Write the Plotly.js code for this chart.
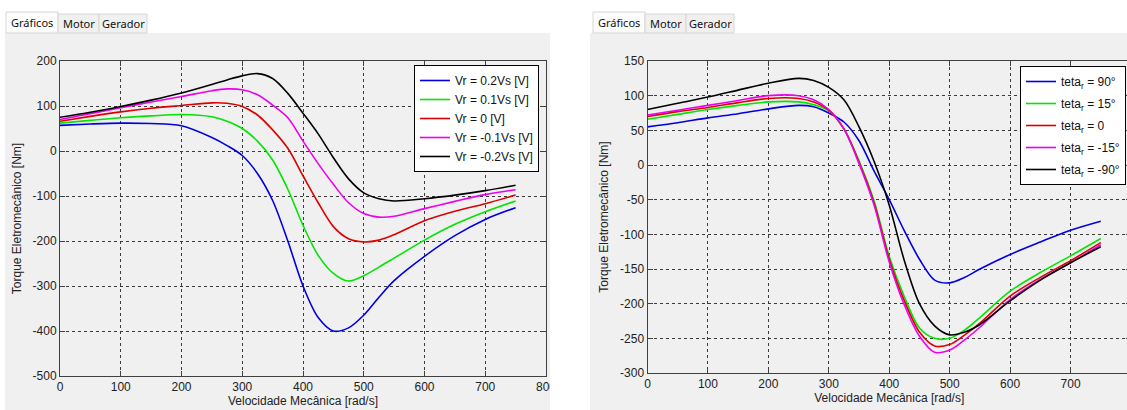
<!DOCTYPE html>
<html>
<head>
<meta charset="utf-8">
<script src="https://cdn.plot.ly/plotly-3.0.1.min.js"></script>
<style>
html,body{margin:0;padding:0;overflow:hidden;background:#fff;}
#chart{width:1135px;height:410px;}
</style>
</head>
<body>
<div id="chart"></div>
<script>
// ---------- DATA ----------
const speed = [0,50,100,150,200,250,275,300,325,350,375,400,425,450,475,500,525,550,600,650,700,750];

// Left chart: Vr variations
const vrLabels = ['Vr = 0.2Vs [V]','Vr = 0.1Vs [V]','Vr = 0 [V]','Vr = -0.1Vs [V]','Vr = -0.2Vs [V]'];
const vrPos02 = [57,60,62,61,56,30,12,-10,-50,-110,-200,-300,-370,-400,-393,-365,-325,-288,-234,-188,-152,-126];
const vrPos01 = [62,68,74,78,81,76,66,50,22,-20,-85,-165,-232,-272,-289,-277,-258,-238,-198,-163,-135,-111];
const vrZero  = [66,77,87,95,101,107,106,99,80,47,6,-55,-115,-168,-195,-202,-198,-186,-155,-134,-117,-98];
const vrNeg01 = [70,83,96,109,121,134,138,136,125,102,74,22,-28,-74,-115,-139,-147,-145,-128,-112,-97,-86];
const vrNeg02 = [75,86,99,113,129,148,158,167,172,161,128,84,38,-15,-62,-93,-106,-111,-106,-98,-88,-76];

// Right chart: teta_r variations
const tetaLabels = ['teta<sub>r</sub> = 90°','teta<sub>r</sub> = 15°','teta<sub>r</sub> = 0','teta<sub>r</sub> = -15°','teta<sub>r</sub> = -90°'];
const teta90  = [55,61,68,74,81,86,84,75,62,35,-9,-50,-95,-136,-166,-170,-162,-150,-129,-111,-94,-81];
const teta15  = [66,73,80,86,91,91,87,78,52,6,-52,-132,-190,-235,-250,-250,-238,-220,-182,-155,-131,-106];
const teta0   = [70,77,83,90,96,96,91,79,52,4,-55,-136,-196,-241,-261,-259,-245,-228,-189,-162,-138,-112];
const tetaM15 = [72,79,86,93,100,100,94,80,52,2,-58,-140,-202,-247,-270,-267,-252,-234,-194,-165,-141,-115];
const tetaM90 = [80,89,98,108,118,125,122,112,94,55,5,-58,-138,-200,-232,-245,-241,-230,-196,-166,-141,-118];

// Tick labels
const xTickVals = [0,100,200,300,400,500,600,700,800];
const xTickText = ['0','100','200','300','400','500','600','700','800'];
const yLeftTickVals = [-500,-400,-300,-200,-100,0,100,200];
const yLeftTickText = ['-500','-400','-300','-200','-100','0','100','200'];
const yRightTickVals = [-300,-250,-200,-150,-100,-50,0,50,100,150];
const yRightTickText = ['-300','-250','-200','-150','-100','-50','0','50','100','150'];

const xTitle = 'Velocidade Mecânica [rad/s]';
const yTitle = 'Torque Eletromecânico [Nm]';
const tabNames = ['Gráficos','Motor','Gerador'];

// ---------- STYLE ----------
const colors = ['#0000e0','#00e600','#dd0000','#ee00ee','#000000'];
const W = 1135, H = 410;
const px = v => v / W;
const py = v => 1 - v / H;
const FONT = 'Liberation Sans, Arial, sans-serif';

const leftSeries = [vrPos02, vrPos01, vrZero, vrNeg01, vrNeg02];
const rightSeries = [teta90, teta15, teta0, tetaM15, tetaM90];

const traces = [];
leftSeries.forEach((s, i) => traces.push({
  x: speed, y: s, name: vrLabels[i], type: 'scatter', mode: 'lines',
  line: {color: colors[i], width: 1.6, shape: 'spline', smoothing: 0.9},
  xaxis: 'x', yaxis: 'y', legend: 'legend', hoverinfo: 'skip'
}));
rightSeries.forEach((s, i) => traces.push({
  x: speed, y: s, name: tetaLabels[i], type: 'scatter', mode: 'lines',
  line: {color: colors[i], width: 1.6, shape: 'spline', smoothing: 0.9},
  xaxis: 'x2', yaxis: 'y2', legend: 'legend2', legendgroup: 'g' + i, hoverinfo: 'skip'
}));

function axisBase() {
  return {
    showline: true, linecolor: '#404040', linewidth: 1, mirror: 'ticks',
    ticks: 'inside', ticklen: 5, tickcolor: '#404040', tickwidth: 1,
    showgrid: true, gridcolor: '#3a3a3a', gridwidth: 1, griddash: 'dot',
    zeroline: false, tickmode: 'array',
    tickfont: {family: FONT, size: 12, color: '#222'},
    fixedrange: true
  };
}

const xa = Object.assign(axisBase(), {
  domain: [px(60), px(546)], range: [0, 800], anchor: 'y',
  tickvals: xTickVals, ticktext: xTickText,
  title: {text: xTitle, font: {family: FONT, size: 12, color: '#222'}, standoff: 3}
});
const ya = Object.assign(axisBase(), {
  domain: [py(376), py(61)], range: [-500, 200], anchor: 'x',
  tickvals: yLeftTickVals, ticktext: yLeftTickText,
  title: {text: yTitle, font: {family: FONT, size: 12, color: '#222'}, standoff: 8}
});
const xa2 = Object.assign(axisBase(), {
  domain: [px(647.5), px(1131)], range: [0, 800], anchor: 'y2',
  tickvals: xTickVals, ticktext: xTickText,
  title: {text: xTitle, font: {family: FONT, size: 12, color: '#222'}, standoff: 3}
});
const ya2 = Object.assign(axisBase(), {
  domain: [py(373), py(61)], range: [-300, 150], anchor: 'x2',
  tickvals: yRightTickVals, ticktext: yRightTickText,
  title: {text: yTitle, font: {family: FONT, size: 12, color: '#222'}, standoff: 8}
});

const shapes = [
  {type:'rect', xref:'paper', yref:'paper', x0:px(5), x1:px(550), y0:0, y1:py(33), fillcolor:'#f0f0f0', line:{width:0}, layer:'below'},
  {type:'rect', xref:'paper', yref:'paper', x0:px(590), x1:1, y0:0, y1:py(33), fillcolor:'#f0f0f0', line:{width:0}, layer:'below'}
];
const tabDefsL = [[6,58,12],[58,99,14],[99,147,14]];
const tabDefsR = [[593,645,12],[645,686,14],[686,734,14]];
const annotations = [];
[tabDefsL, tabDefsR].forEach(defs => {
  defs.forEach((d, i) => {
    shapes.push({type:'rect', xref:'paper', yref:'paper', x0:px(d[0]), x1:px(d[1]), y0:py(33), y1:py(d[2]),
      fillcolor: i === 0 ? '#fcfcfc' : '#f0f0f0', line:{color:'#d6d6d6', width:1}, layer:'below'});
    annotations.push({xref:'paper', yref:'paper', x:px((d[0]+d[1])/2), y:py(i === 0 ? 22 : 23),
      text: tabNames[i], showarrow:false, xanchor:'center', yanchor:'middle',
      font:{family:'Noto Sans, DejaVu Sans, sans-serif', size:11, color:'#111'}});
  });
});
shapes.push({type:'rect', xref:'paper', yref:'paper', x0:px(550), x1:px(590), y0:0, y1:1, fillcolor:'#ffffff', line:{width:0}, layer:'above'});

const legendBase = {
  bgcolor:'#ffffff', bordercolor:'#000000', borderwidth:1,
  font:{family: FONT, size:12, color:'#111'}, xanchor:'right', yanchor:'top',
  tracegroupgap:0, itemwidth:30
};

const layout = {
  width: W, height: H,
  margin: {l:0, r:0, t:0, b:0, pad:0},
  paper_bgcolor: '#ffffff', plot_bgcolor: '#ffffff',
  showlegend: true,
  xaxis: xa, yaxis: ya, xaxis2: xa2, yaxis2: ya2,
  legend: Object.assign({}, legendBase, {x: px(539), y: py(65)}),
  legend2: Object.assign({}, legendBase, {x: px(1126), y: py(66), tracegroupgap: 3}),
  shapes: shapes, annotations: annotations,
  font: {family: FONT}
};

Plotly.newPlot('chart', traces, layout, {displayModeBar:false, staticPlot:true});
</script>
</body>
</html>
